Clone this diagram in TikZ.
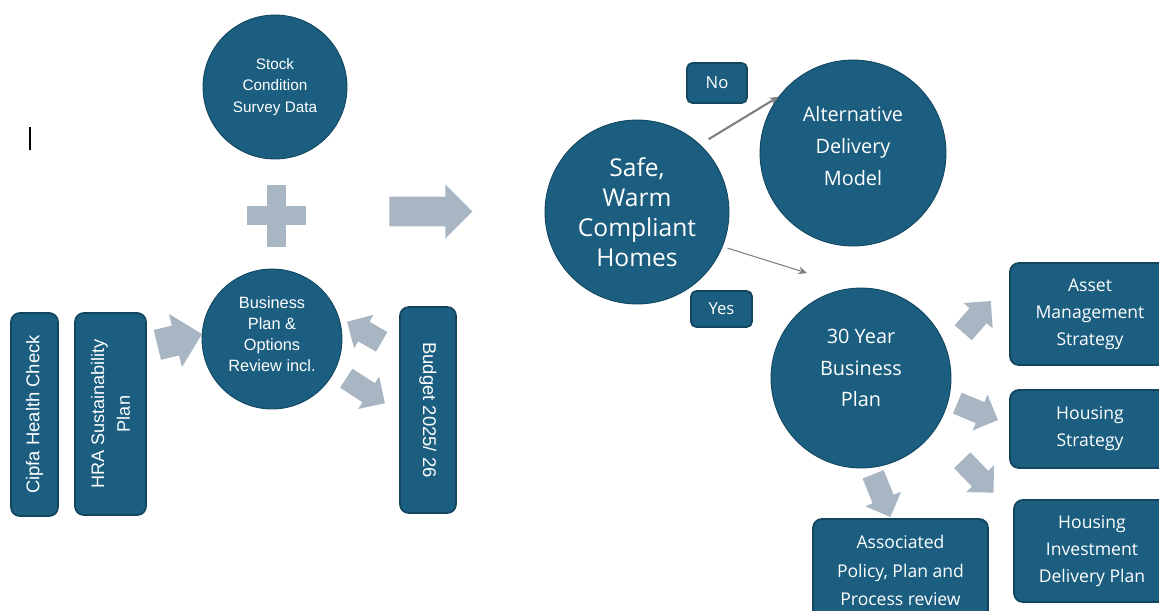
\documentclass[tikz,border=0pt]{standalone}
\usepackage{fontspec}
\setmainfont{Open Sans}
\newfontfamily\arialfont{Liberation Sans}
\usetikzlibrary{shapes.arrows,arrows.meta}

\definecolor{deepteal}{HTML}{1B5E80}
\definecolor{edgeteal}{HTML}{12465F}
\definecolor{arrowgrey}{HTML}{A8B5C3}
\definecolor{linegrey}{HTML}{7F7F7F}

\tikzset{
  disc/.style={circle, fill=deepteal, draw=edgeteal, line width=0.5pt, inner sep=0pt,
    text=white, align=center},
  disctext/.style={text=white, align=center, inner sep=0pt},
  card/.style={rectangle, rounded corners=5pt, fill=deepteal, draw=edgeteal, line width=1pt,
    inner sep=0pt, text=white, align=center},
  fatarrow/.style={single arrow, fill=arrowgrey, draw=none, inner sep=0pt, anchor=tail,
    inner ysep=0.22cm, single arrow head extend=0.16cm, minimum height=#1},
  thinarrow/.style={draw=linegrey, -{Stealth[length=5pt,width=4.5pt]}}
}

\begin{document}
\begin{tikzpicture}[x=0.02cm, y=-0.02cm]
  \clip (0,0) rectangle (1159,610);

  % inputs on the left
  \node[disc, minimum size=2.88cm, font=\arialfont\fontsize{8.7}{12.2}\selectfont]
    (stock) at (275,87) {Stock\\Condition\\Survey Data};
  \fill[arrowgrey] (247,206) rectangle (306,225);
  \fill[arrowgrey] (267,185) rectangle (286,247);

  \node[disc, minimum size=2.8cm] (bp) at (272,339) {};
  \node[disctext, font=\arialfont\fontsize{9.3}{12}\selectfont]
    (bptext) at ([yshift=0.1cm]bp.center) {Business\\Plan \&\\Options\\Review incl.};

  \node[card, rotate=90, minimum width=4.06cm, minimum height=0.94cm,
    font=\arialfont\fontsize{10.5}{14.7}\selectfont] (cipfa) at (34.5,414.5) {Cipfa Health Check};
  \node[card, rotate=90, minimum width=4.04cm, minimum height=1.42cm,
    font=\arialfont\fontsize{10.3}{14.7}\selectfont] (hra) at (110.5,414) {HRA Sustainability\\Plan};
  \node[card, rotate=-90, minimum width=4.12cm, minimum height=1.12cm,
    font=\arialfont\fontsize{10.5}{14.7}\selectfont] (budget) at (428,410) {Budget 2025/ 26};

  \node[fatarrow=0.92cm, inner ysep=0.3cm, single arrow head extend=0.24cm, rotate=13.7]
    (hrain) at (157,345) {};
  \node[fatarrow=1.66cm, inner ysep=0.29cm, single arrow head extend=0.24cm]
    (bigarrow) at (389,211.5) {};

  % outcome and decision
  \node[disc, minimum size=3.68cm, font=\fontsize{14}{17}\selectfont]
    (safe) at (637,212) {Safe,\\Warm\\Compliant\\Homes};
  \node[disc, minimum size=3.72cm] (alt) at (853,153) {};
  \node[disctext, font=\fontsize{11.3}{18}\selectfont]
    (alttext) at ([yshift=0.14cm]alt.center) {Alternative\\Delivery\\Model};
  \node[disc, minimum size=3.6cm] (year) at (861,378) {};
  \node[disctext, font=\fontsize{11.3}{18}\selectfont]
    (yeartext) at ([yshift=0.2cm]year.center) {30 Year\\Business\\Plan};

  \node[card, rounded corners=3pt, minimum width=1.2cm, minimum height=0.8cm,
    font=\fontsize{9.5}{11}\selectfont] (no) at (717,83) {No};
  \node[card, rounded corners=3pt, minimum width=1.22cm, minimum height=0.72cm,
    font=\fontsize{9.5}{11}\selectfont] (yes) at (721.5,309) {Yes};

  \coordinate (yesend) at (807,273);
  \draw[thinarrow, line width=1.2pt, shorten <=0.2cm] (safe.47) -- (alt.143);
  \draw[thinarrow, line width=0.6pt, shorten <=0.1cm] (safe.-22) -- (yesend);

  % what the business plan feeds
  \node[card, minimum width=3.2cm, minimum height=2.04cm, font=\fontsize{10}{15.3}\selectfont]
    (asset) at (1090,314) {Asset\\Management\\Strategy};
  \node[card, minimum width=3.2cm, minimum height=1.56cm, font=\fontsize{10}{15.3}\selectfont]
    (hs) at (1090,429) {Housing\\Strategy};
  \node[card, minimum width=3.12cm, minimum height=2.04cm, font=\fontsize{10}{15.5}\selectfont]
    (hidp) at (1092,551) {Housing\\Investment\\Delivery Plan};
  \node[card, minimum width=3.5cm, minimum height=2.06cm, font=\fontsize{10}{16}\selectfont]
    (assoc) at (900.5,570.5) {Associated\\Policy, Plan and\\Process review};

  \foreach \nm/\pos/\ang/\len in {budgetin/{(382,342)}/150/0.8cm,
                                  budgetout/{(346,378)}/-33/0.92cm,
                                  assetin/{(963,333)}/49/0.84cm,
                                  hsin/{(957,403)}/-22.5/0.88cm,
                                  hidpin/{(962,460)}/-46/0.9cm,
                                  associn/{(873,474)}/-68/0.92cm}
    \node[fatarrow=\len, rotate=\ang] (\nm) at \pos {};

  % stray text cursor
  \draw[line width=1.1pt] (30,127) -- (30,150);
\end{tikzpicture}
\end{document}
